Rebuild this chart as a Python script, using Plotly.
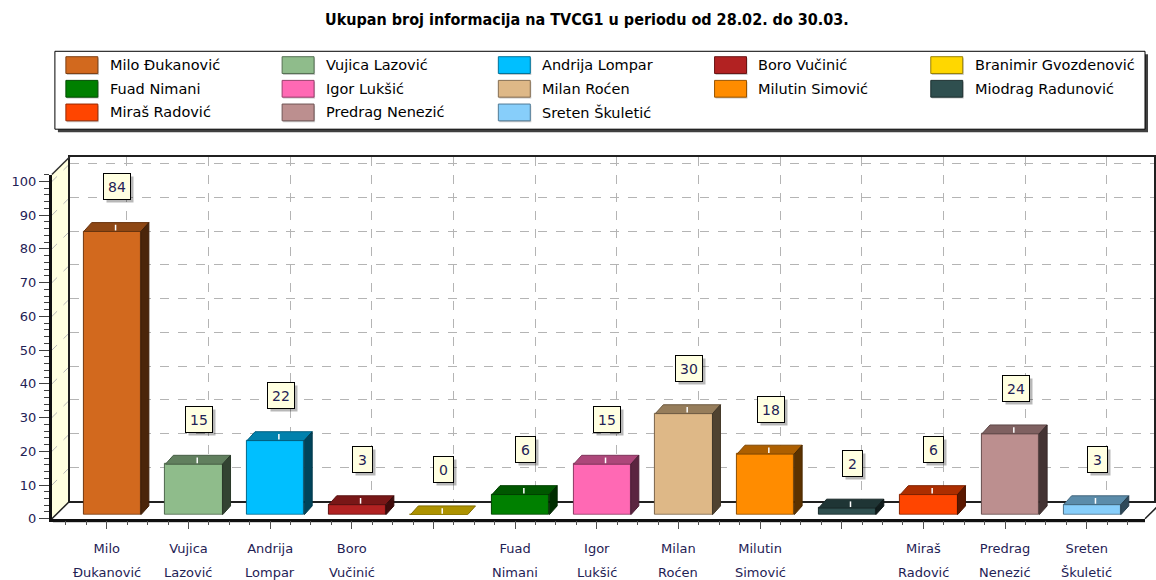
import plotly.graph_objects as go

# ---------------- data ----------------
names = ["Milo Đukanović", "Vujica Lazović", "Andrija Lompar", "Boro Vučinić",
         "Branimir Gvozdenović", "Fuad Nimani", "Igor Lukšić", "Milan Roćen",
         "Milutin Simović", "Miodrag Radunović", "Miraš Radović", "Predrag Nenezić",
         "Sreten Škuletić"]
values = [84, 15, 22, 3, 0, 6, 15, 30, 18, 2, 6, 24, 3]
colors = ["#D2691E", "#8FBC8B", "#00BFFF", "#B22222", "#FFD700", "#008000",
          "#FF69B4", "#DEB887", "#FF8C00", "#2F4F4F", "#FF4500", "#BC8F8F",
          "#87CEFA"]
label_line1 = ["Milo", "Vujica", "Andrija", "Boro", "", "Fuad", "Igor", "Milan",
               "Milutin", "", "Miraš", "Predrag", "Sreten"]
label_line2 = ["Đukanović", "Lazović", "Lompar", "Vučinić", "", "Nimani", "Lukšić",
               "Roćen", "Simović", "", "Radović", "Nenezić", "Škuletić"]
y_ticks = list(range(0, 101, 10))
title_text = "Ukupan broj informacija na TVCG1 u periodu od 28.02. do 30.03."

# ---------------- geometry helpers (pixels -> paper) ----------------
W, H = 1156, 580
def px(x):
    return x / W
def py(y):
    return 1 - y / H

def darken(hexc, f):
    h = hexc.lstrip("#")
    r, g, b = int(h[0:2], 16), int(h[2:4], 16), int(h[4:6], 16)
    return "#%02X%02X%02X" % (int(r * f), int(g * f), int(b * f))

TXT = "#1F2255"
FONT = "DejaVu Sans"

STEP = 81.8          # px between categories
SCALE = 3.42         # px per value unit
# back wall grid (subplot xy): vertical lines at 127 + STEP*i ; 0 at y=508
XB = 127
x1r = [(70 - XB) / STEP, (1156 - XB) / STEP]
y1top = (508 - 159) / SCALE
# bars (subplot x2y2): bar i centred at 112.5 + STEP*i ; 0 at y=522
X0 = 112.5
x2r = [(52 - X0) / STEP, (1147 - X0) / STEP]
y2top = (522 - 159) / SCALE
# front tick axes (subplot x3y3): ticks at 107 + STEP*i ; 0 at y=526
XF = 107
x3r = [(52 - XF) / STEP, (1147 - XF) / STEP]
y3top = (526 - 177) / SCALE

half_w = 0.35
dx = 8 / STEP
dy = 9 / SCALE

fig = go.Figure()

fig.add_trace(go.Scatter(x=[0], y=[0], mode="markers", marker=dict(opacity=0),
                         hoverinfo="skip", showlegend=False, xaxis="x", yaxis="y"))

# front faces
fig.add_trace(go.Bar(
    x=list(range(len(values))), y=values, width=2 * half_w,
    marker=dict(color=colors, line=dict(color=[darken(c, 0.55) for c in colors], width=1)),
    hoverinfo="skip", showlegend=False, xaxis="x2", yaxis="y2"))

# top & side faces
for i, (v, c) in enumerate(zip(values, colors)):
    xl, xr = i - half_w, i + half_w
    fig.add_trace(go.Scatter(
        x=[xl, xl + dx, xr + dx, xr, xl], y=[v, v + dy, v + dy, v, v],
        fill="toself", fillcolor=darken(c, 0.68), mode="lines",
        line=dict(color=darken(c, 0.5), width=1),
        hoverinfo="skip", showlegend=False, xaxis="x2", yaxis="y2"))
    if v > 0:
        fig.add_trace(go.Scatter(
            x=[xr, xr + dx, xr + dx, xr, xr], y=[0, dy, v + dy, v, 0],
            fill="toself", fillcolor=darken(c, 0.36), mode="lines",
            line=dict(color=darken(c, 0.3), width=1),
            hoverinfo="skip", showlegend=False, xaxis="x2", yaxis="y2"))
    fig.add_trace(go.Scatter(
        x=[i + 0.04, i + 0.04], y=[v + 0.3, v + dy * 0.75], mode="lines",
        line=dict(color="white", width=1.5),
        hoverinfo="skip", showlegend=False, xaxis="x2", yaxis="y2"))

fig.add_trace(go.Scatter(x=[0], y=[0], mode="markers", marker=dict(opacity=0),
                         hoverinfo="skip", showlegend=False, xaxis="x3", yaxis="y3"))

shapes = []
annotations = []

# left wall (light yellow) and its diagonal grid lines
shapes.append(dict(type="path", xref="paper", yref="paper", layer="below",
                   path="M %f,%f L %f,%f L %f,%f L %f,%f Z" % (
                       px(52), py(526), px(70), py(508), px(70), py(159), px(52), py(177)),
                   fillcolor="#FFFFE0", line=dict(width=0)))
for t in y_ticks[1:]:
    yb = 508 - SCALE * t
    shapes.append(dict(type="line", xref="paper", yref="paper", layer="below",
                       x0=px(70), y0=py(yb), x1=px(52), y1=py(yb + 18),
                       line=dict(color="#B8B8B8", width=1, dash="dash")))
shapes.append(dict(type="line", xref="paper", yref="paper", layer="above",
                   x0=px(52), y0=py(177), x1=px(70), y1=py(159),
                   line=dict(color="#303030", width=1.5)))
# floor edges
shapes.append(dict(type="line", xref="paper", yref="paper", layer="above",
                   x0=px(52), y0=py(526), x1=px(70), y1=py(508),
                   line=dict(color="#202020", width=1.5)))
shapes.append(dict(type="line", xref="paper", yref="paper", layer="below",
                   x0=px(53), y0=py(529), x1=px(1147), y1=py(529),
                   line=dict(color="#A0A0A0", width=1.5)))
shapes.append(dict(type="line", xref="paper", yref="paper", layer="above",
                   x0=px(1147), y0=py(526), x1=px(1165), y1=py(508),
                   line=dict(color="#202020", width=1.5)))

# ---------------- legend box ----------------
shapes.append(dict(type="rect", xref="paper", yref="paper", layer="above",
                   x0=px(58), y0=py(134), x1=px(1150), y1=py(55),
                   fillcolor="#404040", line=dict(width=0)))
shapes.append(dict(type="rect", xref="paper", yref="paper", layer="above",
                   x0=px(55), y0=py(131), x1=px(1147), y1=py(52),
                   fillcolor="white", line=dict(color="black", width=1)))
for k, (n, c) in enumerate(zip(names, colors)):
    row, col = divmod(k, 5)
    yc = 66 + 24 * row
    sx = 66 + 216.6 * col
    shapes.append(dict(type="rect", xref="paper", yref="paper", layer="above",
                       x0=px(sx + 1), y0=py(yc + 10), x1=px(sx + 33), y1=py(yc - 7),
                       fillcolor="#C8C8C8", line=dict(width=0)))
    shapes.append(dict(type="rect", xref="paper", yref="paper", layer="above",
                       x0=px(sx), y0=py(yc + 8.5), x1=px(sx + 32), y1=py(yc - 8.5),
                       fillcolor=c, line=dict(color=darken(c, 0.6), width=1)))
    annotations.append(dict(xref="paper", yref="paper", x=px(sx + 42), y=py(yc),
                            xanchor="left", yanchor="middle", showarrow=False,
                            text=n, font=dict(family=FONT, size=14.5, color="black")))

# ---------------- title ----------------
annotations.append(dict(xref="paper", yref="paper", x=px(588), y=py(20),
                        xanchor="center", yanchor="middle", showarrow=False,
                        text="<b>" + title_text + "</b>",
                        font=dict(family="DejaVu Sans Condensed, Liberation Sans Narrow, Liberation Sans",
                                  size=16, color="black")))

# ---------------- value labels ----------------
for i, v in enumerate(values):
    w = 20 if v >= 10 else 13
    annotations.append(dict(x=i, y=v, xref="x2", yref="y2", xshift=8, yshift=42,
                            showarrow=False, text=" ", width=w, height=19,
                            bgcolor="rgba(0,0,0,0.28)", borderpad=3, borderwidth=1,
                            bordercolor="rgba(0,0,0,0)"))
    annotations.append(dict(x=i, y=v, xref="x2", yref="y2", xshift=5, yshift=45,
                            showarrow=False, text=str(v), width=w, height=19,
                            bgcolor="#FFFFE1", bordercolor="black", borderwidth=1,
                            borderpad=3, font=dict(family=FONT, size=14, color=TXT)))

# ---------------- second line of category labels ----------------
for i, t in enumerate(label_line2):
    if t:
        annotations.append(dict(x=i, xref="x3", y=py(581), yref="paper",
                                showarrow=False, text=t, xanchor="center", yanchor="middle",
                                font=dict(family=FONT, size=13, color=TXT)))

fig.update_layout(
    width=W, height=H, autosize=False,
    margin=dict(l=0, r=0, t=0, b=0),
    paper_bgcolor="white", plot_bgcolor="rgba(0,0,0,0)",
    showlegend=False, bargap=0,
    xaxis=dict(domain=[px(70), 1], range=x1r, anchor="y",
               tickmode="linear", tick0=0, dtick=1, showticklabels=False, ticks="",
               showgrid=True, gridcolor="#B4B4B4", griddash="dash", gridwidth=1,
               zeroline=False, showline=True, linecolor="#202020", linewidth=1.5,
               mirror=True, fixedrange=True),
    yaxis=dict(domain=[py(508), py(159)], range=[0, y1top], anchor="x",
               tickmode="linear", tick0=0, dtick=10, showticklabels=False, ticks="",
               showgrid=True, gridcolor="#B4B4B4", griddash="dash", gridwidth=1,
               zeroline=False, showline=True, linecolor="#202020", linewidth=1.5,
               mirror=True, fixedrange=True),
    xaxis2=dict(domain=[px(52), px(1147)], range=x2r, anchor="y2", visible=False),
    yaxis2=dict(domain=[py(522), py(159)], range=[0, y2top], anchor="x2", visible=False),
    xaxis3=dict(domain=[px(52), px(1147)], range=x3r, anchor="y3",
                tickmode="array", tickvals=list(range(len(values))), ticktext=label_line1,
                ticks="outside", ticklen=8, tickwidth=1, tickcolor="#505050",
                ticklabelstandoff=8,
                minor=dict(tickmode="linear", tick0=0, dtick=0.25, ticks="outside",
                           ticklen=4, tickcolor="#505050", showgrid=False),
                showgrid=False, zeroline=False, showline=True, linecolor="#101010",
                linewidth=2.5, tickfont=dict(family=FONT, size=13, color=TXT)),
    yaxis3=dict(domain=[py(526), py(177)], range=[0, y3top], anchor="x3", side="left",
                tickmode="array", tickvals=y_ticks, ticktext=[str(t) for t in y_ticks],
                ticks="outside", ticklen=10, tickwidth=1, tickcolor="#404040",
                minor=dict(tickmode="linear", tick0=0, dtick=2, ticks="outside",
                           ticklen=5, tickcolor="#404040", showgrid=False),
                showgrid=False, zeroline=False, showline=True, linecolor="#101010",
                linewidth=3, tickfont=dict(family=FONT, size=13, color=TXT)),
    shapes=shapes, annotations=annotations,
)

fig.write_html("out.html", config={"displayModeBar": False},
               post_script="document.body.style.margin='0';document.body.style.overflow='hidden';")
